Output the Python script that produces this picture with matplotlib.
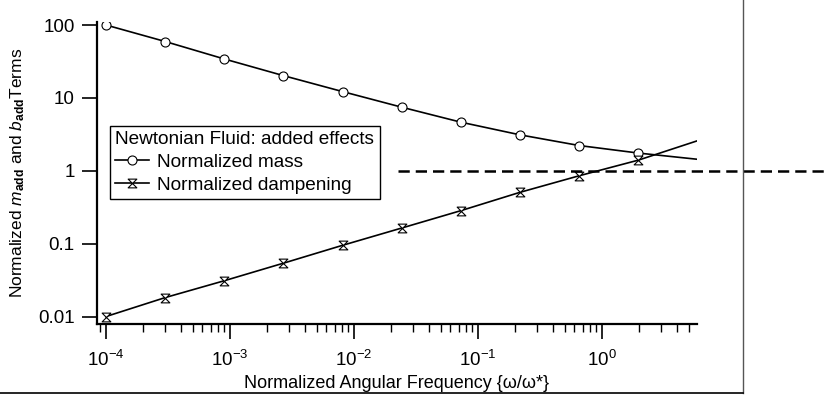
import matplotlib
matplotlib.use('Agg')
import matplotlib.pyplot as plt
from matplotlib.path import Path
from matplotlib.lines import Line2D
from matplotlib.ticker import LogLocator, FixedLocator, NullFormatter

plt.rcParams['font.family'] = ['Liberation Sans', 'DejaVu Sans']
plt.rcParams['mathtext.fontset'] = 'custom'
plt.rcParams['mathtext.rm'] = 'Liberation Sans'
plt.rcParams['mathtext.it'] = 'Liberation Sans:italic'
plt.rcParams['mathtext.bf'] = 'Liberation Sans:bold'

# frequencies (omega / omega*) at the markers, last value is where the curves end
freq = [1e-4, 3e-4, 9e-4, 2.7e-3, 8.1e-3, 0.0243, 0.0729, 0.2187, 0.656, 1.968, 5.84]
mass = [100, 59.4, 34.2, 20.2, 12.2, 7.45, 4.64, 3.11, 2.22, 1.75, 1.44]
damp = [0.0100, 0.0182, 0.031, 0.054, 0.095, 0.164, 0.284, 0.507, 0.855, 1.40, 2.57]
n_markers = 10

ref_level = 1.0
ref_x = [0.0227, 66]

yticks = [0.01, 0.1, 1, 10, 100]
ytick_labels = ['0.01', '0.1', '1', '10', '100']
xticks = [1e-4, 1e-3, 1e-2, 1e-1, 1e0]
xtick_labels = [r'$10^{-4}$', r'$10^{-3}$', r'$10^{-2}$', r'$10^{-1}$', r'$10^{0}$']

# hourglass marker
hourglass = Path([(-1, 1), (1, 1), (-1, -1), (1, -1), (-1, 1)],
                 [Path.MOVETO, Path.LINETO, Path.LINETO, Path.LINETO, Path.CLOSEPOLY])

fig = plt.figure(figsize=(8.28, 4.0), dpi=100)
ax = fig.add_axes([97 / 828, 1 - 324 / 400, 600 / 828, 302 / 400])

ax.plot(freq, mass, color='black', lw=1.2, marker='o', ms=6.5, mfc='white',
        mec='black', mew=0.8, markevery=slice(0, n_markers), label='Normalized mass')
ax.plot(freq, damp, color='black', lw=1.2, marker=hourglass, ms=6.3, mfc='white',
        mec='black', mew=0.8, markevery=slice(0, n_markers), label='Normalized dampening')

ax.plot(ref_x, [ref_level, ref_level], color='black', lw=1.8, ls=(0, (4.5, 2.4)),
        clip_on=False)

ax.set_xscale('log')
ax.set_yscale('log')
ax.set_xlim(8.46e-5, 5.84)
ax.set_ylim(0.0079, 110)

ax.spines['top'].set_visible(False)
ax.spines['right'].set_visible(False)
ax.spines['left'].set_linewidth(1.6)
ax.spines['bottom'].set_linewidth(1.6)

ax.yaxis.set_major_locator(FixedLocator(yticks))
ax.set_yticklabels(ytick_labels)
ax.yaxis.set_minor_locator(FixedLocator([]))
ax.xaxis.set_major_locator(FixedLocator(xticks))
ax.set_xticklabels(xtick_labels)
ax.xaxis.set_minor_locator(LogLocator(base=10, subs=range(2, 10), numticks=20))
ax.xaxis.set_minor_formatter(NullFormatter())

ax.tick_params(axis='both', which='major', direction='out', length=11, width=1.2,
               labelsize=13.5, colors='black')
ax.tick_params(axis='y', which='major', pad=5)
ax.tick_params(axis='x', which='major', pad=8)
ax.tick_params(axis='x', which='minor', direction='out', length=6, width=1.0)

ax.set_xlabel('Normalized Angular Frequency {\u03c9/\u03c9*}', fontsize=13, labelpad=3)
ax.set_ylabel(r'Normalized $\mathit{m}_{\mathbf{add}}$ and $\mathit{b}_{\mathbf{add}}$Terms',
              fontsize=12.5, labelpad=8)

leg = ax.legend(title='Newtonian Fluid: added effects', loc='upper left',
                bbox_to_anchor=(13 / 600, 1 - 104 / 302), fontsize=13.7,
                title_fontsize=13.7, frameon=True, fancybox=False, framealpha=1,
                edgecolor='black', borderpad=0.28, labelspacing=0.28,
                handlelength=1.75, handletextpad=0.45, borderaxespad=0)
leg._legend_box.align = 'left'
leg.get_frame().set_linewidth(1.0)

# page frame lines
fig.add_artist(Line2D([743 / 828, 743 / 828], [1.0, 1 - 393 / 400], color='#555555', lw=1.0))
fig.add_artist(Line2D([0, 743 / 828], [1 - 393 / 400, 1 - 393 / 400], color='black', lw=1.2))

fig.savefig('out.png', dpi=100)
